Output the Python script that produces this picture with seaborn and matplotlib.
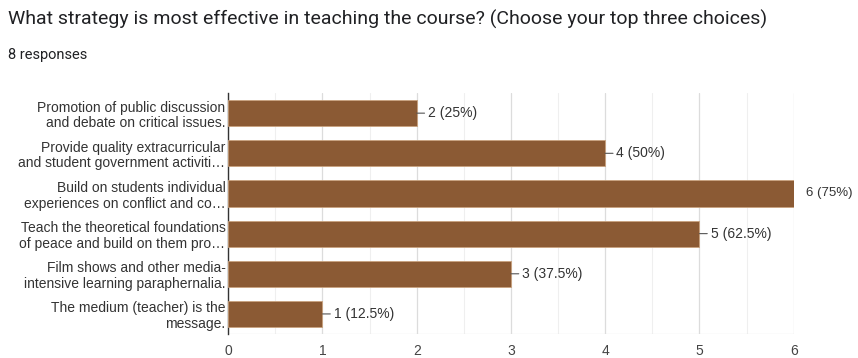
import matplotlib
matplotlib.use("Agg")
import matplotlib.pyplot as plt
import seaborn as sns
import pandas as pd
from matplotlib.ticker import MultipleLocator

categories = [
    "Promotion of public discussion\nand debate on critical issues.",
    "Provide quality extracurricular\nand student government activiti…",
    "Build on students individual\nexperiences on conflict and co…",
    "Teach the theoretical foundations\nof peace and build on them pro…",
    "Film shows and other media-\nintensive learning paraphernalia.",
    "The medium (teacher) is the\nmessage.",
]
counts = [2, 4, 6, 5, 3, 1]
percent_labels = ["25%", "50%", "75%", "62.5%", "37.5%", "12.5%"]
x_ticks = [0, 1, 2, 3, 4, 5, 6]

df = pd.DataFrame({"strategy": categories, "count": counts})

sns.set_theme(style="white")
plt.rcParams["font.family"] = ["Liberation Sans", "DejaVu Sans"]

fig = plt.figure(figsize=(8.58, 3.58), dpi=100)
ax = fig.add_axes([0.266, 0.067, 0.659, 0.673])

sns.barplot(data=df, y="strategy", x="count", orient="h", color="#8B5A34",
            width=0.65, edgecolor="#C9A27E", linewidth=0.6, saturation=1,
            ax=ax, zorder=3)

ax.set_xlim(0, 6)
ax.set_xticks(x_ticks)
ax.xaxis.set_minor_locator(MultipleLocator(0.5))
ax.grid(axis="x", which="major", color="#dcdcdc", linewidth=0.9, zorder=0)
ax.grid(axis="x", which="minor", color="#efefef", linewidth=0.8, zorder=0)
ax.set_axisbelow(True)
ax.set_xlabel("")
ax.set_ylabel("")
for side in ["top", "right", "bottom"]:
    ax.spines[side].set_visible(False)
ax.spines["left"].set_color("#333333")
ax.spines["left"].set_linewidth(1.0)
ax.axhline(ax.get_ylim()[0], color="#e0e0e0", linewidth=0.9, zorder=1)
ax.tick_params(axis="x", which="both", length=0, labelsize=10, labelcolor="#444444", pad=7)
ax.tick_params(axis="y", length=0, labelsize=10, labelcolor="#333333", pad=2)
for lbl in ax.get_yticklabels():
    lbl.set_linespacing(1.15)

for i, (c, p) in enumerate(zip(counts, percent_labels)):
    text = f"{c} ({p})"
    if c == max(counts):
        ax.annotate(text, xy=(c, i), xytext=(9, 0), textcoords="offset points",
                    va="center", ha="left", fontsize=9.5, color="#333333",
                    annotation_clip=False)
    else:
        ax.annotate(text, xy=(c, i), xytext=(8, 0), textcoords="offset points",
                    va="center", ha="left", fontsize=10, color="#333333",
                    arrowprops=dict(arrowstyle="-", color="#555555", lw=0.8,
                                    shrinkA=0, shrinkB=0),
                    annotation_clip=False)

fig.text(0.009, 0.945, "What strategy is most effective in teaching the course? (Choose your top three choices)",
         fontsize=14, color="#202124", family=["Roboto", "DejaVu Sans"], va="center")
fig.text(0.009, 0.845, "8 responses", fontsize=10.5, color="#202124",
         family=["Roboto", "DejaVu Sans"], va="center")

fig.savefig("out.png", dpi=100, facecolor="white")
